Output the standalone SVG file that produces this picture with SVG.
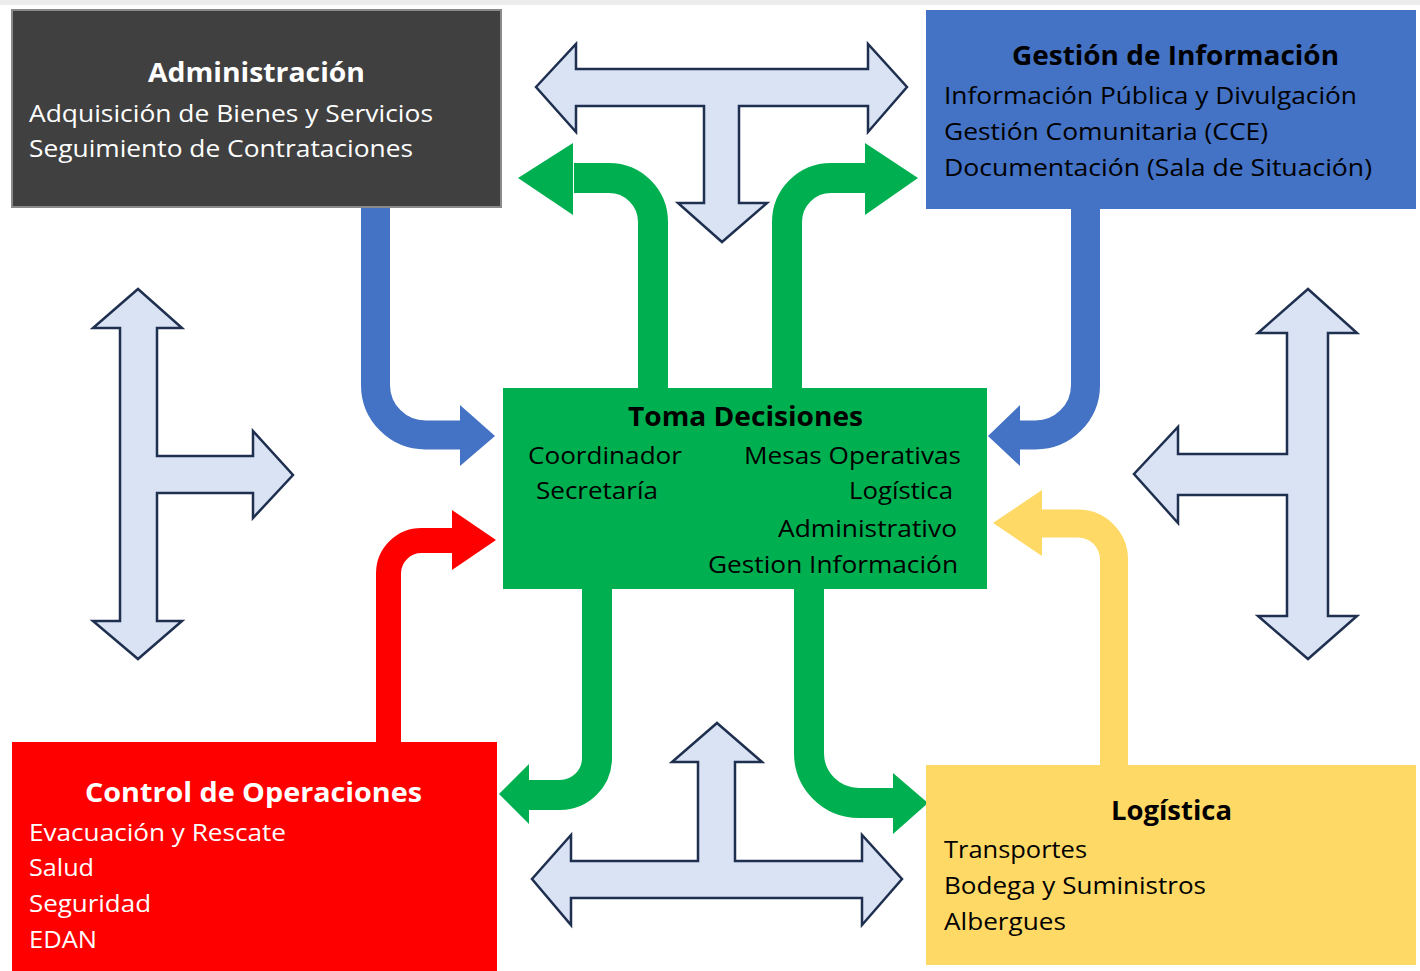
<svg xmlns="http://www.w3.org/2000/svg" width="1420" height="971" viewBox="0 0 1420 971">
<style>
.t{font-family:"Open Sans","Noto Sans","Liberation Sans",sans-serif;font-size:23px}
.b{font-family:"Open Sans","Noto Sans","Liberation Sans",sans-serif;font-size:26px;font-weight:bold}
.w{fill:#ffffff}
.k{fill:#000000}
.tee{fill:#dae3f3;stroke:#1f2f4f;stroke-width:2.5;stroke-linejoin:miter}
.sh{fill:none;stroke-linejoin:round}
</style>
<rect x="0" y="0" width="1420" height="971" fill="#ffffff"/>
<rect x="0" y="0" width="1420" height="5" fill="#ececec"/>
<g id="connectors">
  <g id="blue-left">
    <path class="sh" d="M375.5,205 V385 A50,50 0 0 0 425.5,435 H462" stroke="#4472c4" stroke-width="29"/>
    <polygon points="460,405 495,436 460,466" fill="#4472c4"/>
  </g>
  <g id="blue-right">
    <path class="sh" d="M1085.5,207 V385 A50,50 0 0 1 1035.5,435 H1018" stroke="#4472c4" stroke-width="29"/>
    <polygon points="1020,405 988,436 1020,466" fill="#4472c4"/>
  </g>
  <g id="green-top-left">
    <path class="sh" d="M653,390 V222 A44,44 0 0 0 609,178 H574" stroke="#00b050" stroke-width="30"/>
    <polygon points="573,143 518,178 573,215" fill="#00b050"/>
  </g>
  <g id="green-top-right">
    <path class="sh" d="M787,390 V222 A44,44 0 0 1 831,178 H866" stroke="#00b050" stroke-width="30"/>
    <polygon points="865,143 918,178 865,215" fill="#00b050"/>
  </g>
  <g id="green-bottom-left">
    <path class="sh" d="M597,587 V758 A37,37 0 0 1 560,795 H527" stroke="#00b050" stroke-width="30"/>
    <polygon points="529,764 499,794 529,824" fill="#00b050"/>
  </g>
  <g id="green-bottom-right">
    <path class="sh" d="M809,587 V753 A50,50 0 0 0 859,803 H895" stroke="#00b050" stroke-width="30"/>
    <polygon points="893,773 928,803 893,834" fill="#00b050"/>
  </g>
  <g id="red-arrow">
    <path class="sh" d="M388.5,744 V573 A33,33 0 0 1 421.5,540.5 H454" stroke="#ff0000" stroke-width="25"/>
    <polygon points="452,510 496,540 452,570" fill="#ff0000"/>
  </g>
  <g id="yellow-arrow">
    <path class="sh" d="M1114,767 V560 A36,36 0 0 0 1078,523.5 H1040" stroke="#ffd966" stroke-width="28"/>
    <polygon points="1042,490 993,523 1042,556" fill="#ffd966"/>
  </g>
  <polygon id="tee-top" class="tee" points="536,87 576,44 576,69 868,69 868,44 907,87 868,132 868,106 739,106 739,203 767,203 722,242 678,203 704,203 704,106 576,106 576,132"/>
  <polygon id="tee-left" class="tee" points="138,289 182,328 157,328 157,456 253,456 253,431 293,475 253,518 253,493 157,493 157,621 182,621 138,659 93,621 120,621 120,328 93,328"/>
  <polygon id="tee-right" class="tee" points="1308,289 1357,333 1328,333 1328,616 1357,616 1308,659 1258,616 1287,616 1287,495 1178,495 1178,523 1134,474 1178,427 1178,454 1287,454 1287,333 1258,333"/>
  <polygon id="tee-bottom" class="tee" points="717,723 762,762 735,762 735,861 862,861 862,835 902,879 862,925 862,898 571,898 571,925 532,879 571,835 571,861 698,861 698,762 672,762"/>
</g>
<g id="administracion">
  <rect x="12" y="10" width="489" height="197" fill="#404040" stroke="#8a8a8a" stroke-width="2"/>
  <text class="b w" x="148" y="82" textLength="217" lengthAdjust="spacingAndGlyphs">Administración</text>
  <text class="t w" x="29" y="122" textLength="404" lengthAdjust="spacingAndGlyphs">Adquisición de Bienes y Servicios</text>
  <text class="t w" x="29" y="157" textLength="384" lengthAdjust="spacingAndGlyphs">Seguimiento de Contrataciones</text>
</g>
<g id="gestion-informacion">
  <rect x="926" y="10" width="490" height="199" fill="#4472c4"/>
  <text class="b k" x="1012" y="65" textLength="327" lengthAdjust="spacingAndGlyphs">Gestión de Información</text>
  <text class="t k" x="944" y="104" textLength="413" lengthAdjust="spacingAndGlyphs">Información Pública y Divulgación</text>
  <text class="t k" x="944" y="140" textLength="324" lengthAdjust="spacingAndGlyphs">Gestión Comunitaria (CCE)</text>
  <text class="t k" x="944" y="176" textLength="428" lengthAdjust="spacingAndGlyphs">Documentación (Sala de Situación)</text>
</g>
<g id="toma-decisiones">
  <rect x="503" y="388" width="484" height="201" fill="#00b050"/>
  <text class="b k" x="628" y="426" textLength="235" lengthAdjust="spacingAndGlyphs">Toma Decisiones</text>
  <text class="t k" x="528" y="464" textLength="154" lengthAdjust="spacingAndGlyphs">Coordinador</text>
  <text class="t k" x="744" y="464" textLength="217" lengthAdjust="spacingAndGlyphs">Mesas Operativas</text>
  <text class="t k" x="536" y="499" textLength="122" lengthAdjust="spacingAndGlyphs">Secretaría</text>
  <text class="t k" x="849" y="499" textLength="104" lengthAdjust="spacingAndGlyphs">Logística</text>
  <text class="t k" x="778" y="537" textLength="179" lengthAdjust="spacingAndGlyphs">Administrativo</text>
  <text class="t k" x="708" y="573" textLength="250" lengthAdjust="spacingAndGlyphs">Gestion Información</text>
</g>
<g id="control-operaciones">
  <rect x="12" y="742" width="485" height="229" fill="#ff0000"/>
  <text class="b w" x="85" y="802" textLength="337" lengthAdjust="spacingAndGlyphs">Control de Operaciones</text>
  <text class="t w" x="29" y="841" textLength="257" lengthAdjust="spacingAndGlyphs">Evacuación y Rescate</text>
  <text class="t w" x="29" y="876" textLength="65" lengthAdjust="spacingAndGlyphs">Salud</text>
  <text class="t w" x="29" y="912" textLength="122" lengthAdjust="spacingAndGlyphs">Seguridad</text>
  <text class="t w" x="29" y="948" textLength="68" lengthAdjust="spacingAndGlyphs">EDAN</text>
</g>
<g id="logistica">
  <rect x="926" y="765" width="490" height="200" fill="#ffd966"/>
  <text class="b k" x="1111" y="820" textLength="121" lengthAdjust="spacingAndGlyphs">Logística</text>
  <text class="t k" x="944" y="858" textLength="143" lengthAdjust="spacingAndGlyphs">Transportes</text>
  <text class="t k" x="944" y="894" textLength="262" lengthAdjust="spacingAndGlyphs">Bodega y Suministros</text>
  <text class="t k" x="944" y="930" textLength="122" lengthAdjust="spacingAndGlyphs">Albergues</text>
</g>
</svg>
